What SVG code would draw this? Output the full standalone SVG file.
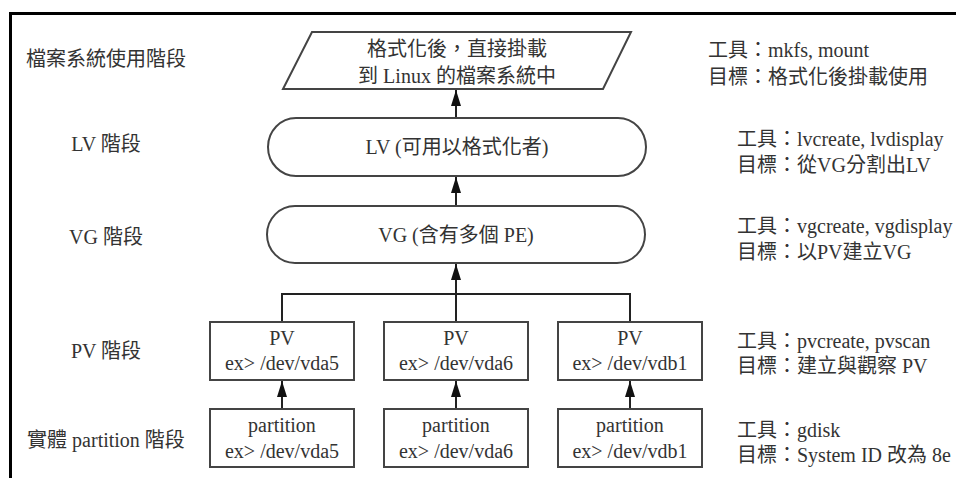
<svg xmlns="http://www.w3.org/2000/svg" width="956" height="478" viewBox="0 0 956 478">
<style>
text{font-family:"Liberation Serif","Noto Sans CJK TC",serif;font-size:20px;fill:#333}
.c{text-anchor:middle}
.shape{fill:#fff;stroke:#444;stroke-width:2}
.conn{fill:none;stroke:#222;stroke-width:2}
</style>
<defs>
<marker id="ah" markerUnits="userSpaceOnUse" markerWidth="16" markerHeight="10" viewBox="0 0 16 10" refX="16" refY="5" orient="auto">
<path d="M0,0 L16,5 L0,10 Z" fill="#111"/>
</marker>
</defs>
<rect x="0" y="0" width="956" height="478" fill="#fff"/>
<path d="M10.5,478 V13.5 H956" fill="none" stroke="#000" stroke-width="3"/>

<g id="labels">
<text class="c" x="106" y="66">檔案系統使用階段</text>
<text class="c" x="106" y="151">LV 階段</text>
<text class="c" x="106" y="244">VG 階段</text>
<text class="c" x="106" y="358">PV 階段</text>
<text class="c" x="106" y="447">實體 partition 階段</text>
</g>

<g id="notes">
<text x="708" y="57">工具：mkfs, mount</text>
<text x="708" y="84">目標：格式化後掛載使用</text>
<text x="737" y="146">工具：lvcreate, lvdisplay</text>
<text x="737" y="172">目標：從VG分割出LV</text>
<text x="737" y="233">工具：vgcreate, vgdisplay</text>
<text x="737" y="259">目標：以PV建立VG</text>
<text x="737" y="348">工具：pvcreate, pvscan</text>
<text x="737" y="373">目標：建立與觀察 PV</text>
<text x="737" y="437">工具：gdisk</text>
<text x="737" y="462">目標：System ID 改為 8e</text>
</g>

<g id="fs">
<path class="shape" d="M312,32 H631 L603,89 H283 Z"/>
<text class="c" x="457" y="56">格式化後，直接掛載</text>
<text class="c" x="457" y="83">到 Linux 的檔案系統中</text>
</g>
<g id="lv">
<rect class="shape" x="268" y="118" width="378" height="58" rx="28" ry="29"/>
<text class="c" x="457" y="154">LV (可用以格式化者)</text>
</g>
<g id="vg">
<rect class="shape" x="267" y="206" width="378" height="57" rx="28" ry="28.5"/>
<text class="c" x="456" y="242">VG (含有多個 PE)</text>
</g>
<g id="pv1">
<rect class="shape" x="210" y="322" width="144" height="58"/>
<text class="c" x="282" y="345">PV</text>
<text class="c" x="282" y="370">ex&gt; /dev/vda5</text>
</g>
<g id="pv2">
<rect class="shape" x="384" y="322" width="144" height="58"/>
<text class="c" x="456" y="345">PV</text>
<text class="c" x="456" y="370">ex&gt; /dev/vda6</text>
</g>
<g id="pv3">
<rect class="shape" x="558" y="322" width="144" height="58"/>
<text class="c" x="630" y="345">PV</text>
<text class="c" x="630" y="370">ex&gt; /dev/vdb1</text>
</g>
<g id="part1">
<rect class="shape" x="210" y="409" width="144" height="58"/>
<text class="c" x="282" y="432">partition</text>
<text class="c" x="282" y="458">ex&gt; /dev/vda5</text>
</g>
<g id="part2">
<rect class="shape" x="384" y="409" width="144" height="58"/>
<text class="c" x="456" y="432">partition</text>
<text class="c" x="456" y="458">ex&gt; /dev/vda6</text>
</g>
<g id="part3">
<rect class="shape" x="558" y="409" width="144" height="58"/>
<text class="c" x="630" y="432">partition</text>
<text class="c" x="630" y="458">ex&gt; /dev/vdb1</text>
</g>

<g id="connectors">
<path class="conn" d="M456,117 V90" marker-end="url(#ah)"/>
<path class="conn" d="M456,205 V177" marker-end="url(#ah)"/>
<path class="conn" d="M282,321 V294 H630 V321"/>
<path class="conn" d="M456,321 V264" marker-end="url(#ah)"/>
<path class="conn" d="M282,408 V381" marker-end="url(#ah)"/>
<path class="conn" d="M456,408 V381" marker-end="url(#ah)"/>
<path class="conn" d="M630,408 V381" marker-end="url(#ah)"/>
</g>
</svg>
